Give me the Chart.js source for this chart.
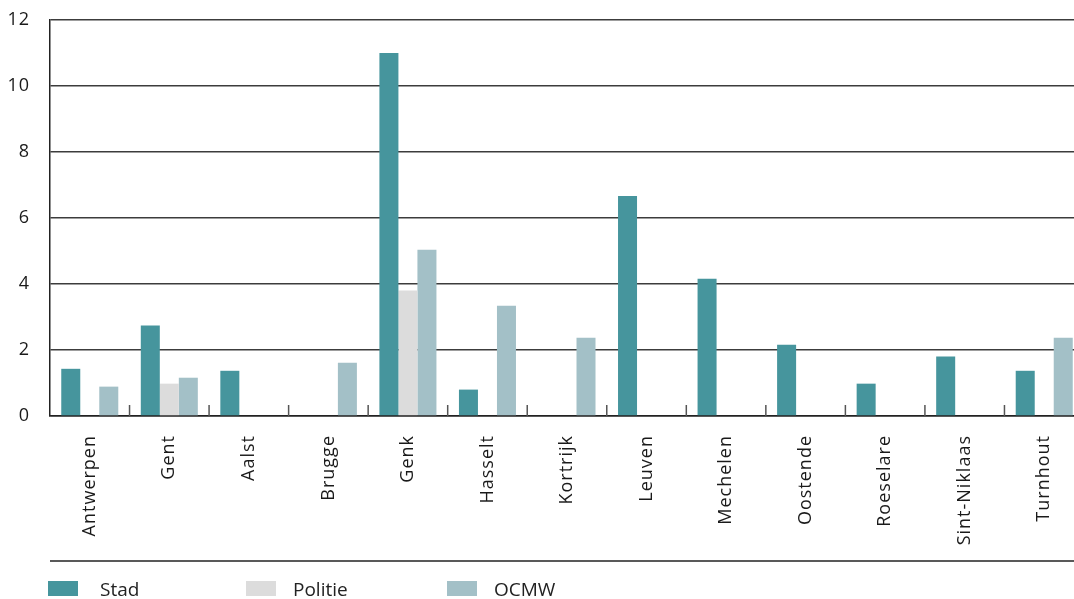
<!DOCTYPE html>
<html>
<head>
<meta charset="utf-8">
<script src="https://cdn.jsdelivr.net/npm/chart.js@4/dist/chart.umd.min.js"></script>
<style>
  html, body { margin: 0; padding: 0; background: #fff; overflow: hidden; }
  .can-con { width: 1074px; height: 599px; overflow: hidden; position: relative; }
  #myChart { display: block; }
</style>
</head>
<body>
<div class="can-con">
  <canvas id="myChart" width="1084" height="599" style="width:1084px;height:599px"></canvas>
</div>
<script>
// data
const cities = ["Antwerpen", "Gent", "Aalst", "Brugge", "Genk", "Hasselt", "Kortrijk",
  "Leuven", "Mechelen", "Oostende", "Roeselare", "Sint-Niklaas", "Turnhout"];
const stad = [1.43, 2.74, 1.37, 0, 11, 0.8, 0, 6.67, 4.16, 2.16, 0.98, 1.8, 1.37];
const politie = [0, 0.98, 0, 0, 3.8, 0, 0, 0, 0, 0, 0, 0, 0];
const ocmw = [0.89, 1.16, 0, 1.61, 5.04, 3.34, 2.37, 0, 0, 0, 0, 0, 2.37];
const yTicks = [0, 2, 4, 6, 8, 10, 12];

const fontFamily = "'Open Sans', 'Noto Sans', sans-serif";
let ctx = document.getElementById("myChart");

// slightly wider letter spacing for the axis labels, like the original typeface
const spacing = {
  id: "spacing",
  beforeLayout: function (chart) {
    chart.ctx.letterSpacing = "1px";
  },
  beforeDraw: function (chart) {
    chart.ctx.letterSpacing = "1px";
  },
};

// ticks between the categories (pointing up) + bottom rule + legend
const extras = {
  id: "extras",
  afterDraw: function (chart) {
    const c = chart.ctx;
    const xAxis = chart.scales.x;
    const bottom = chart.chartArea.bottom;
    c.save();
    c.strokeStyle = "#555";
    c.lineWidth = 1.5;
    for (let i = 0; i < cities.length - 1; i++) {
      let xb = (xAxis.getPixelForValue(i) + xAxis.getPixelForValue(i + 1)) / 2;
      c.beginPath();
      c.moveTo(xb, bottom - 11);
      c.lineTo(xb, bottom);
      c.stroke();
    }
    // bottom rule
    c.strokeStyle = "#222";
    c.lineWidth = 1.5;
    c.beginPath();
    c.moveTo(chart.chartArea.left, 561);
    c.lineTo(chart.width, 561);
    c.stroke();
    // legend
    const boxX = [48, 246, 447];
    const textX = [100, 293, 494];
    c.letterSpacing = "0px";
    c.font = "19px " + fontFamily;
    c.textBaseline = "alphabetic";
    chart.data.datasets.forEach((ds, i) => {
      c.fillStyle = ds.backgroundColor;
      c.fillRect(boxX[i], 581, 30, 15);
      c.fillStyle = "#222";
      c.fillText(ds.label, textX[i], 596);
    });
    c.restore();
  },
};

var config = {
  type: "bar",
  data: {
    labels: cities,
    datasets: [
      { label: "Stad", data: stad, backgroundColor: "#46959d" },
      { label: "Politie", data: politie, backgroundColor: "#dcdcdc" },
      { label: "OCMW", data: ocmw, backgroundColor: "#a3c0c7" },
    ],
  },
  options: {
    responsive: false,
    animation: false,
    layout: { padding: { top: 20, left: 0, right: 0, bottom: 0 } },
    datasets: {
      bar: { categoryPercentage: 0.717, barPercentage: 1.0, borderWidth: 0 },
    },
    scales: {
      x: {
        grid: { display: false, drawTicks: false },
        border: { display: true, color: "#222", width: 1.5 },
        ticks: {
          minRotation: 90,
          maxRotation: 90,
          padding: 19,
          color: "#1a1a1a",
          font: { family: fontFamily, size: 18 },
        },
        afterFit: function (scale) {
          scale.height = 183;
          scale.paddingTop = 0;
          scale.paddingLeft = 0;
          scale.paddingRight = 0;
        },
      },
      y: {
        min: 0,
        max: 12,
        afterBuildTicks: function (scale) {
          scale.ticks = yTicks.map((v) => ({ value: v }));
        },
        grid: {
          drawTicks: false,
          color: (c) => (c.tick.value === 0 ? "#222" : "#3c3c3c"),
          lineWidth: 1.4,
        },
        border: { display: true, color: "#222", width: 1.5 },
        ticks: {
          padding: 20,
          color: "#1a1a1a",
          font: { family: fontFamily, size: 18 },
        },
        afterFit: function (scale) {
          scale.width = 50;
          scale.paddingTop = 0;
          scale.paddingBottom = 0;
        },
      },
    },
    plugins: {
      legend: { display: false },
      tooltip: { enabled: false },
    },
  },
  plugins: [spacing, extras],
};

const myChart = new Chart(ctx, config);
</script>
</body>
</html>
